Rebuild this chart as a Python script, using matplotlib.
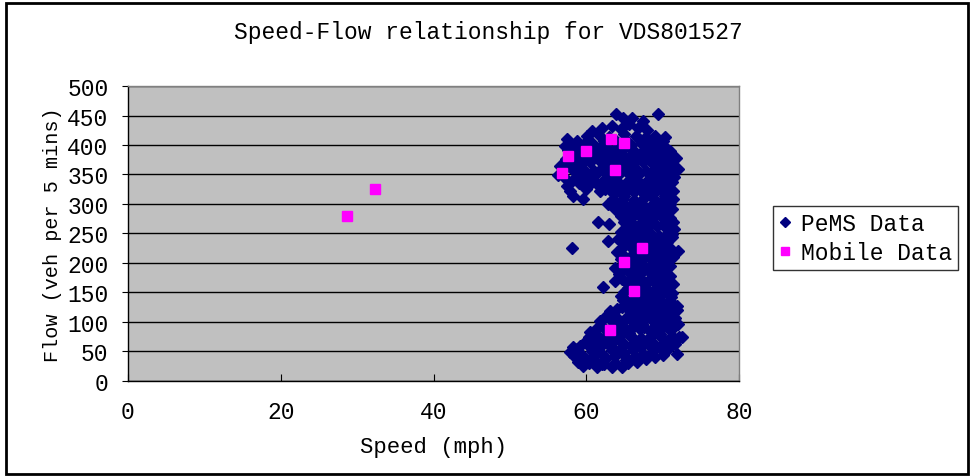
"""Speed-Flow scatter for VDS801527: PeMS detector data vs mobile probe data."""
import matplotlib
matplotlib.use("Agg")
import matplotlib.pyplot as plt
from matplotlib.patches import Rectangle

# ── data ─────────────────────────────────────────────────────────────────────
pems_speed = [
    63.9, 69.4, 64.8, 66.0, 67.4, 63.4, 65.6,
    60.7, 62.0, 64.5, 66.8, 68.0,
    57.5, 60.1, 61.5, 63.0, 65.0, 66.5, 67.8, 69.0, 70.3,
    57.2, 58.5, 59.8, 61.2, 62.5, 64.0, 65.8, 67.2, 68.3, 69.5, 70.6,
    58.0, 59.3, 60.8, 62.0, 63.5, 65.0, 66.4, 67.7, 69.0, 70.2, 71.4,
    56.6, 57.8, 59.0, 60.5, 62.0, 63.3, 64.7, 66.0, 67.4, 68.7, 70.0, 71.2, 72.0,
    56.3, 57.3, 58.8, 60.2, 61.6, 62.9, 64.4, 65.8, 67.0, 68.4, 69.8, 71.0, 71.5,
    57.5, 59.0, 60.4, 61.8, 63.2, 64.6, 66.0, 67.3, 68.6, 70.0, 71.2,
    57.9, 58.2, 59.6, 61.8, 63.5, 65.0, 66.3, 67.7, 69.0, 70.3, 71.3,
    62.9, 64.5, 65.8, 67.2, 68.5, 69.8, 71.0,
    63.8, 64.5, 65.5, 66.8, 68.0, 69.3, 70.5,
    61.5, 63.0, 65.0, 66.3, 67.6, 68.9, 70.2, 71.4,
    64.6, 65.8, 67.0, 68.3, 69.5, 70.8, 71.2,
    62.9, 64.2, 65.5, 66.8, 68.0, 69.3, 70.6, 71.2,
    58.1, 64.0, 66.3, 67.8, 69.0, 70.3, 72.0,
    64.5, 65.7, 67.0, 68.3, 69.6, 70.6,
    63.8, 65.3, 66.6, 67.9, 69.2, 70.4,
    63.8, 64.7, 66.0, 67.3, 68.6, 69.8, 71.0,
    62.2, 65.5, 66.8, 68.0, 69.4, 70.6,
    64.5, 66.0, 67.3, 68.6, 69.9, 71.1,
    65.2, 66.5, 67.8, 69.0, 70.3, 71.9,
    63.1, 64.7, 65.8, 67.2, 68.5, 69.7, 71.0, 71.9,
    61.8, 63.2, 64.5, 66.0, 67.3, 68.6, 69.8, 71.0, 72.0,
    60.5, 61.5, 62.8, 64.2, 65.6, 67.0, 68.3, 69.6, 70.9, 72.5,
    59.8, 61.0, 62.3, 63.6, 65.0, 66.4, 67.7, 69.0, 70.3, 71.6,
    57.9, 58.5, 59.5, 60.8, 62.0, 63.4, 64.8, 66.1, 67.4, 68.7, 70.0, 71.9,
    58.9, 60.0, 61.2, 62.5, 63.8, 65.2, 66.6, 67.8,
    59.6, 61.4, 63.4, 64.7, 62.3,
    # dense core of the cloud
    58.8, 60.4, 62.3, 63.8, 65.5, 67.0, 68.6, 70.0,
    57.6, 59.0, 60.5, 61.7, 63.0, 64.6, 66.0, 67.5, 68.9, 70.3, 71.0,
    57.3, 58.6, 60.0, 61.3, 62.6, 64.0, 65.4, 66.8, 68.2, 69.5, 70.8, 71.8,
    57.0, 58.2, 59.6, 61.0, 62.3, 63.6, 65.1, 66.5, 67.8, 69.2, 70.5, 71.6,
    58.2, 59.6, 61.0, 62.5, 63.9, 65.3, 66.6, 68.0, 69.3, 70.6,
    60.0, 62.5, 64.0, 65.6, 67.0, 68.3, 69.6, 70.8,
    63.5, 64.8, 66.2, 67.6, 68.9, 70.2, 71.4,
    65.0, 66.2, 67.5, 68.8, 70.0, 71.2,
    65.8, 67.2, 68.5, 69.8, 71.0,
    65.3, 66.6, 67.9, 69.2, 70.4, 71.5,
    65.0, 66.3, 67.6, 68.8, 70.0,
    64.9, 66.0, 67.2, 68.5, 69.8, 71.0,
    65.0, 66.4, 67.7, 69.0, 70.0, 71.3,
    64.8, 66.0, 67.3, 68.6, 69.9, 71.0,
    64.3, 65.7, 67.0, 68.3, 69.5, 70.7,
    65.3, 66.5, 67.8, 69.0, 70.2, 71.3,
    65.0, 66.3, 67.6, 68.9, 70.2, 71.2,
    64.8, 66.0, 67.2, 68.4, 69.7, 70.9,
    64.0, 65.3, 66.6, 67.9, 69.1, 70.4, 71.4,
    62.5, 63.9, 65.2, 66.6, 67.9, 69.2, 70.5, 71.6,
    62.2, 63.5, 64.9, 66.3, 67.6, 68.9, 70.2, 71.5,
    60.4, 61.6, 63.0, 64.4, 65.8, 67.2, 68.5, 69.8, 71.2, 72.2,
    58.3, 59.2, 60.5, 61.8, 63.2, 64.5, 65.8, 67.1, 68.4, 69.6, 70.8,
    58.4, 59.6, 61.0, 62.4, 63.7, 65.0, 66.4, 67.7, 69.0,
    60.3, 62.0, 63.8, 65.5,
]
pems_flow = [
    453, 453, 446, 445, 440, 432, 436,
    424, 428, 427, 429, 425,
    411, 416, 418, 414, 418, 416, 413, 415, 414,
    398, 401, 404, 399, 402, 397, 400, 404, 401, 397, 394,
    386, 383, 388, 384, 387, 382, 386, 383, 388, 384, 380,
    364, 370, 367, 372, 369, 366, 371, 368, 372, 367, 370, 371, 360,
    349, 343, 352, 348, 354, 349, 352, 347, 353, 350, 346, 352, 345,
    331, 336, 333, 328, 335, 330, 336, 331, 334, 329, 338,
    322, 314, 308, 322, 318, 314, 320, 316, 320, 314, 322,
    300, 303, 298, 302, 297, 303, 300,
    292, 280, 287, 283, 290, 285, 280,
    270, 266, 270, 265, 272, 268, 266, 270,
    252, 248, 255, 250, 246, 253, 249,
    237, 240, 232, 238, 234, 240, 236, 244,
    225, 218, 222, 217, 223, 219, 220,
    206, 210, 203, 208, 205, 210,
    192, 188, 193, 190, 186, 192,
    170, 173, 176, 171, 177, 173, 178,
    159, 158, 162, 156, 161, 157,
    144, 140, 146, 142, 147, 143,
    130, 127, 133, 129, 126, 127,
    119, 125, 112, 117, 113, 119, 114, 120,
    101, 104, 98, 102, 97, 103, 99, 105, 96,
    83, 92, 80, 86, 82, 88, 84, 80, 87, 75,
    66, 70, 64, 68, 63, 70, 65, 61, 68, 62,
    49, 54, 44, 51, 46, 53, 47, 52, 45, 50, 44, 46,
    32, 38, 33, 37, 31, 36, 32, 38,
    25, 24, 24, 24, 28,
    # dense core of the cloud
    407, 409, 406, 408, 405, 409, 407, 406,
    392, 393, 391, 394, 392, 390, 393, 391, 394, 392, 390,
    377, 378, 376, 379, 377, 375, 378, 376, 379, 377, 375, 378,
    358, 357, 359, 356, 358, 360, 357, 359, 356, 358, 360, 357,
    340, 341, 339, 342, 340, 338, 341, 339, 342, 340,
    325, 326, 324, 327, 325, 323, 326, 324,
    308, 309, 307, 310, 308, 306, 309,
    293, 294, 292, 295, 293, 291,
    277, 278, 276, 279, 277,
    260, 261, 259, 262, 260, 258,
    243, 244, 242, 245, 243,
    228, 229, 227, 230, 228, 226,
    212, 213, 211, 214, 212, 210,
    197, 198, 196, 199, 197, 195,
    182, 183, 181, 184, 182, 180,
    166, 167, 165, 168, 166, 164,
    151, 152, 150, 153, 151, 149,
    137, 138, 136, 139, 137, 135,
    122, 123, 121, 124, 122, 120, 123,
    108, 109, 107, 110, 108, 106, 109, 107,
    92, 93, 91, 94, 92, 90, 93, 91,
    75, 76, 74, 77, 75, 73, 76, 74, 77, 75,
    58, 59, 57, 60, 58, 56, 59, 57, 60, 58, 56,
    42, 41, 43, 40, 42, 44, 41, 43, 40,
    30, 29, 31, 30,
]

mobile_speed = [28.7, 32.3, 56.8, 57.6, 60.0, 63.2, 65.0, 63.8, 67.3, 65.0, 66.2, 63.1]
mobile_flow = [279, 325, 352, 381, 390, 411, 403, 358, 226, 201, 152, 87]

x_ticks = [0, 20, 40, 60, 80]
y_ticks = list(range(0, 501, 50))

FONT = "Liberation Mono"
PEMS_COLOR = "#000080"
MOBILE_COLOR = "#FF00FF"

fig = plt.figure(figsize=(9.71, 4.77), dpi=100)
fig.patch.set_facecolor("white")
ax = fig.add_axes([0.1318, 0.1992, 0.6293, 0.6184])
ax.set_facecolor("#C0C0C0")

ax.plot(pems_speed, pems_flow, ls="none", marker="D", ms=6.4,
        color=PEMS_COLOR, mec=PEMS_COLOR, label="PeMS Data", zorder=3)
ax.plot(mobile_speed, mobile_flow, ls="none", marker="s", ms=7.5,
        color=MOBILE_COLOR, mec=MOBILE_COLOR, label="Mobile Data", zorder=4)

ax.set_xlim(0, 80)
ax.set_ylim(0, 500)
ax.set_xticks(x_ticks)
ax.set_yticks(y_ticks)
ax.grid(axis="y", color="black", lw=1.0, zorder=1)
ax.set_axisbelow(True)
for s in ax.spines.values():
    s.set_color("#808080")
    s.set_linewidth(1.0)
ax.spines["bottom"].set_color("black")
ax.spines["left"].set_color("black")

ax.tick_params(axis="x", direction="in", length=5, pad=14, labelsize=16.5)
ax.tick_params(axis="y", direction="out", length=4, pad=10, labelsize=16.5)
for lab in ax.get_xticklabels() + ax.get_yticklabels():
    lab.set_fontfamily(FONT)

ax.set_xlabel("Speed (mph)", fontsize=16, fontfamily=FONT, labelpad=9)
ax.set_ylabel("Flow (veh per 5 mins)", fontsize=14.5, fontfamily=FONT, labelpad=4)
fig.text(0.503, 0.931, "Speed-Flow relationship for VDS801527",
         ha="center", va="center", fontsize=16.5, fontfamily=FONT)

leg = ax.legend(loc="upper left", bbox_to_anchor=(1.055, 0.592),
                prop={"family": FONT, "size": 16.5}, frameon=True, fancybox=False,
                borderpad=0.25, handlelength=0.6, handletextpad=0.4,
                labelspacing=0.25, borderaxespad=0, markerscale=0.8)
leg.get_frame().set_edgecolor("black")
leg.get_frame().set_linewidth(1.0)

# outer chart border
fig.patches.append(Rectangle((0.006, 0.004), 0.991, 0.987, transform=fig.transFigure,
                             fill=False, edgecolor="black", lw=2.0))

fig.savefig("out.png", dpi=100)
